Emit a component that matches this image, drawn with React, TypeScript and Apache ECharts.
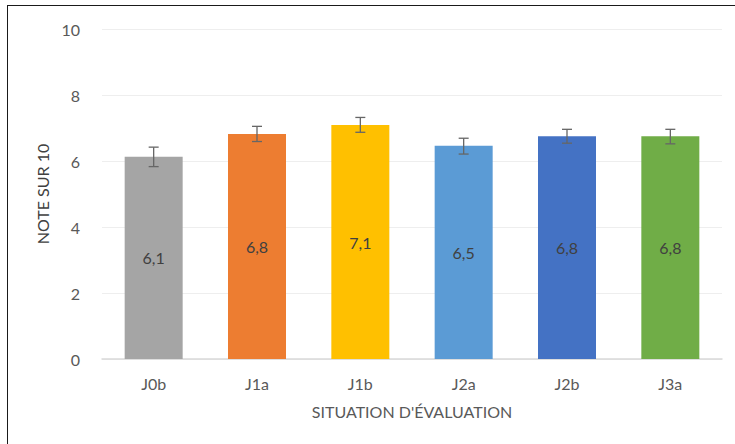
import React, { useEffect, useRef } from "react";
import * as echarts from "echarts";

const categories = ["J0b", "J1a", "J1b", "J2a", "J2b", "J3a"];
const values = [6.13, 6.82, 7.09, 6.46, 6.75, 6.75];
const errLow = [5.83, 6.59, 6.87, 6.21, 6.54, 6.52];
const errHigh = [6.42, 7.05, 7.32, 6.69, 6.96, 6.96];
const colors = ["#A5A5A5", "#ED7D31", "#FFC000", "#5B9BD5", "#4472C4", "#70AD47"];
const yTicks = [0, 2, 4, 6, 8, 10];

const FONT = "Lato, 'Liberation Sans', sans-serif";

export default function App() {
  const ref = useRef<HTMLDivElement>(null);
  useEffect(() => {
    if (!ref.current) return;
    const chart = echarts.init(ref.current, null, { renderer: "svg" });
    chart.setOption({
      animation: false,
      textStyle: { fontFamily: FONT },
      grid: { left: 102, right: 13, top: 29, bottom: 85 },
      xAxis: {
        type: "category",
        data: categories,
        axisTick: { show: false },
        axisLine: { lineStyle: { color: "#D9D9D9", width: 1.5 } },
        axisLabel: { color: "#595959", fontSize: 16, margin: 16, fontFamily: FONT },
        name: "SITUATION D'ÉVALUATION",
        nameLocation: "middle",
        nameGap: 44,
        nameTextStyle: { color: "#595959", fontSize: 16, fontFamily: FONT },
      },
      yAxis: {
        type: "value",
        min: yTicks[0],
        max: yTicks[yTicks.length - 1],
        interval: 2,
        axisLine: { show: false },
        axisTick: { show: false },
        splitLine: { lineStyle: { color: "#EEEEEE", width: 1 } },
        axisLabel: { color: "#595959", fontSize: 16, margin: 22, fontFamily: FONT },
        name: "NOTE SUR 10",
        nameLocation: "middle",
        nameGap: 47,
        nameTextStyle: { color: "#404040", fontSize: 16, fontFamily: FONT },
      },
      series: [
        {
          type: "bar",
          barWidth: 58,
          data: values.map((v, i) => ({ value: v, itemStyle: { color: colors[i] } })),
          label: {
            show: true,
            position: "inside",
            color: "#404040",
            fontSize: 16,
            fontFamily: FONT,
            formatter: (p: any) => (Math.round(p.value * 10) / 10).toFixed(1).replace(".", ","),
          },
        },
        {
          type: "custom",
          z: 10,
          data: categories.map((_, i) => [i, errLow[i], errHigh[i]]),
          renderItem: (params: any, api: any) => {
            const x = api.value(0);
            const lo = api.coord([x, api.value(1)]);
            const hi = api.coord([x, api.value(2)]);
            const cap = 5;
            const style = { stroke: "#666666", lineWidth: 1.3 };
            return {
              type: "group",
              children: [
                { type: "line", shape: { x1: lo[0], y1: lo[1], x2: hi[0], y2: hi[1] }, style },
                { type: "line", shape: { x1: lo[0] - cap, y1: lo[1], x2: lo[0] + cap, y2: lo[1] }, style },
                { type: "line", shape: { x1: hi[0] - cap, y1: hi[1], x2: hi[0] + cap, y2: hi[1] }, style },
              ],
            };
          },
        },
      ],
    });
    return () => chart.dispose();
  }, []);
  return (
    <div style={{ position: "fixed", left: 0, top: 0, width: 735, height: 444, background: "#fff", overflow: "hidden" }}>
      <div
        style={{
          position: "absolute",
          left: 7,
          top: 5,
          width: 760,
          height: 460,
          border: "1.5px solid #1a1a1a",
          boxSizing: "border-box",
        }}
      />
      <div ref={ref} style={{ position: "absolute", left: 0, top: 0, width: 735, height: 444 }} />
    </div>
  );
}
